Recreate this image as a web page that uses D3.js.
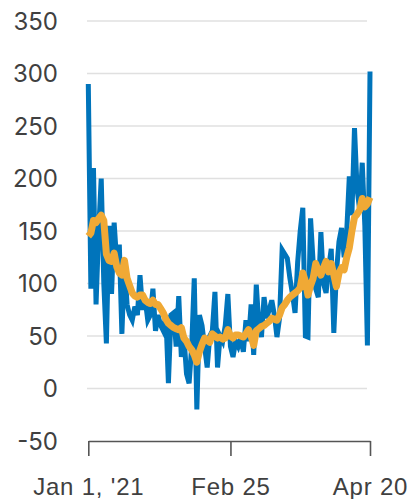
<!DOCTYPE html>
<html>
<head>
<meta charset="utf-8">
<script src="https://cdn.jsdelivr.net/npm/d3@7"></script>
<style>
  html, body { margin: 0; padding: 0; background: #fff; }
  svg { display: block; font-family: Inter, "Noto Sans", sans-serif; }
  .grid line { stroke: #e0e0e0; stroke-width: 1.5; }
  .tick-label { fill: #404040; font-size: 24px; }
  .x-label { letter-spacing: 0.8px; }
</style>
</head>
<body>
<svg id="chart" width="414" height="499"></svg>
<script>
// daily values, Jan 1 2021 .. Apr 20 2021
const daily = [
  290, 95, 210, 80, 150, 200, 100, 43, 155, 90,
  158, 120, 137, 52, 120, 80, 70, 65, 78, 70,
  108, 75, 85, 65, 70, 95, 55, 70, 60, 55,
  70, 5, 70, 72, 40, 88, 30, 50, 14, 5,
  40, 105, -20, 70, 60, 40, 20, 50, 55, 92,
  20, 50, 45, 60, 90, 40, 30, 45, 40, 48,
  35, 65, 45, 80, 32, 99, 60, 49, 87, 67,
  75, 84, 70, 49, 67, 132, 128, 124, 105, 90,
  72, 120, 150, 172, 50, 49, 162, 120, 95, 87,
  149, 100, 91, 115, 133, 53, 110, 140, 153, 125,
  150, 202, 165, 248, 190, 170, 215, 155, 41, 302
];

// rolling average line
const average = [
  145, 148, 160, 158, 162, 165, 160, 128, 122, 121,
  129, 116, 110, 108, 122, 105, 98, 91, 88, 87,
  89, 89, 84, 82, 81, 84, 80, 80, 76, 72,
  66, 62, 60, 58, 57, 56, 58, 48, 45, 40,
  37, 32, 25, 35, 42, 48, 46, 44, 52, 50,
  48, 49, 47, 48, 56, 50, 48, 51, 51, 50,
  49, 52, 56, 50, 41, 55, 57, 59, 60, 62,
  64, 67, 66, 65, 70, 77, 80, 84, 87, 89,
  91, 93, 96, 110, 102, 89, 98, 105, 119, 112,
  108, 115, 121, 111, 119, 108, 97, 110, 115, 113,
  125, 134, 150, 163, 166, 170, 181, 173, 176, 182
];

const yTicks = [-50, 0, 50, 100, 150, 200, 250, 300, 350];
const xTickDates = [new Date(2021, 0, 1), new Date(2021, 1, 25), new Date(2021, 3, 20)];
const xTickLabels = ["Jan 1, '21", 'Feb 25', 'Apr 20'];

const startDate = new Date(2021, 0, 1);
const dates = daily.map((_, i) => d3.timeDay.offset(startDate, i));

const svg = d3.select('#chart');

const x = d3.scaleTime()
  .domain([startDate, new Date(2021, 3, 20)])
  .range([88.3, 370]);

const y = d3.scaleLinear()
  .domain([-50, 350])
  .range([441, 21]);

// horizontal gridlines
svg.append('g')
  .attr('class', 'grid')
  .selectAll('line')
  .data(yTicks.filter((t) => t > -50))
  .enter()
  .append('line')
  .attr('x1', 87)
  .attr('x2', 367)
  .attr('y1', (d) => y(d))
  .attr('y2', (d) => y(d));

// y labels
svg.append('g')
  .selectAll('text')
  .data(yTicks)
  .enter()
  .append('text')
  .attr('class', 'tick-label')
  .attr('x', 58)
  .attr('y', (d) => y(d))
  .attr('dy', '0.36em')
  .attr('text-anchor', 'end')
  .text((d) => d);

// x axis
const xAxis = d3.axisBottom(x)
  .tickValues(xTickDates)
  .tickSize(15)
  .tickSizeOuter(0)
  .tickPadding(22)
  .tickFormat((d, i) => xTickLabels[i]);

const gx = svg.append('g')
  .attr('transform', `translate(0,${y(-50)})`)
  .call(xAxis);

gx.select('.domain').attr('stroke', '#555').attr('stroke-width', 1.6);
gx.selectAll('.tick line').attr('stroke', '#555').attr('stroke-width', 1.6);
gx.selectAll('.tick text')
  .attr('class', 'tick-label x-label')
  .attr('font-family', null)
  .attr('font-size', null)
  .attr('fill', null);

const line = d3.line()
  .x((d, i) => x(dates[i]))
  .y((d) => y(d));

svg.append('path')
  .datum(daily)
  .attr('fill', 'none')
  .attr('stroke', '#0074BB')
  .attr('stroke-width', 5)
  .attr('d', line);

svg.append('path')
  .datum(average)
  .attr('fill', 'none')
  .attr('stroke', '#F0A935')
  .attr('stroke-width', 7)
  .attr('stroke-linejoin', 'round')
  .attr('d', line);
</script>
</body>
</html>
